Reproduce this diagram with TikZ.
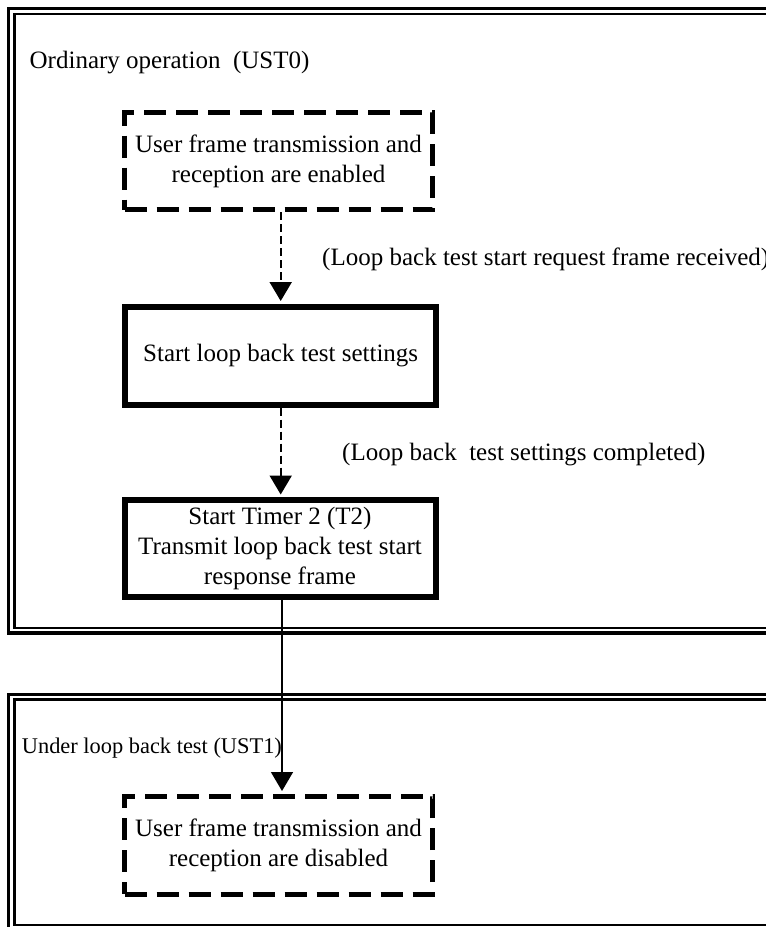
\documentclass[tikz,border=0pt]{standalone}
\usepackage{fontspec}
\setmainfont{Liberation Serif}
\usetikzlibrary{arrows.meta}

\begin{document}
\begin{tikzpicture}[x=1pt,y=-1pt,
  font=\fontsize{25}{30}\selectfont,
  dashbox/.style={draw,line width=5pt,dash pattern=on 22pt off 10pt,
    minimum width=308pt,minimum height=97pt,inner sep=0pt,align=center},
  solidbox/.style={draw,line width=6pt,minimum width=311pt,
    minimum height=98pt,inner sep=0pt,align=center},
  flow/.style={-{Triangle[length=19pt,width=22pt]},shorten >=2.5pt},
  dashflow/.style={flow,line width=2pt,dash pattern=on 8pt off 4pt},
  outerframe/.style={line width=3.2pt},
  innerframe/.style={line width=2.6pt}]
\useasboundingbox (0,0) rectangle (766,927);
\clip (0,0) rectangle (766,927);
% ---------- state frames (cut at the right edge) ----------
\draw[outerframe] (800,8.5) -- (8.8,8.5) -- (8.8,633) -- (800,633);
\draw[innerframe] (800,14) -- (14.7,14) -- (14.7,628) -- (800,628);
\draw[outerframe] (800,694.7) -- (8.8,694.7) -- (8.8,931) -- (800,931);
\draw[innerframe] (800,699.5) -- (14.7,699.5) -- (14.7,925) -- (800,925);
\node[anchor=base west,inner sep=0pt] (ust0) at (29.5,68.5) {Ordinary operation\ \ (UST0)};
\node[anchor=base west,inner sep=0pt,font=\fontsize{22.4}{27}\selectfont] (ust1) at (21.7,753) {Under loop back test (UST1)};
% ---------- boxes ----------
\node[dashbox] (enabled) at (278.5,161) {User frame transmission and\\reception are enabled};
\node[solidbox] (settings) at (280.7,355.5) {Start loop back test settings};
\node[solidbox,minimum height=97pt] (timer) at (280,548.5) {Start Timer 2 (T2)\\Transmit loop back test start\\response frame};
\node[dashbox,minimum height=98pt] (disabled) at (278.5,845) {User frame transmission and\\reception are disabled};
% ---------- transitions ----------
\draw[dashflow] (enabled.south -| settings.north) -- (settings.north);
\node[anchor=base west,inner sep=0pt] (reqlbl) at (322,265) {(Loop back test start request frame received)};
\draw[dashflow] (settings.south) -- (settings.south |- timer.north);
\node[anchor=base west,inner sep=0pt] (donelbl) at (342,460) {(Loop back\ \ test settings completed)};
\draw[flow,line width=1.5pt] ([xshift=2pt]timer.south) -- ([xshift=2pt]timer.south |- disabled.north);
\end{tikzpicture}
\end{document}
